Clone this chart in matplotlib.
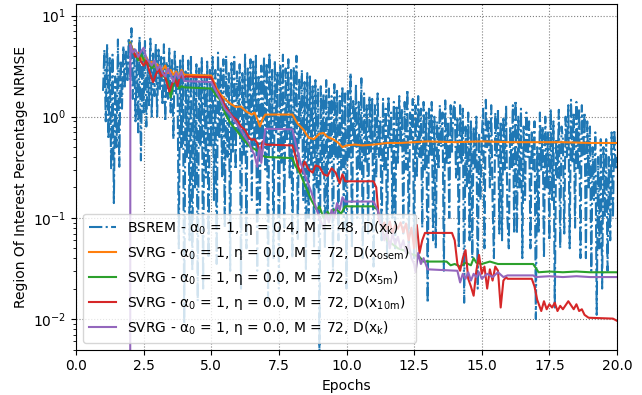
import matplotlib.pyplot as plt
import numpy as np

# BSREM: one value every 0.05 epoch, from epoch 1.0 to 20.0
bsrem_start = 1.0
bsrem_step = 0.05
bsrem_nrmse = [
    1.8, 4.6, 0.9, 5.2, 0.6, 3.8, 0.3, 4.1, 0.14, 2.5, 0.5, 5.8, 0.32, 3.6, 1.2, 5.0, 1.9, 4.4, 2.2, 6.0,
    2.3, 7.5, 1.5, 4.8, 0.9, 3.9, 0.7, 6.2, 0.37, 4.5, 1.1, 5.6, 0.8, 3.4, 1.3, 5.9, 1.0, 4.2, 1.6, 5.3,
    1.0, 4.6, 1.8, 3.9, 1.3, 5.2, 0.9, 3.5, 1.5, 4.7, 1.1, 3.8, 0.6, 4.4, 1.7, 3.2, 0.05, 3.6, 0.5, 4.0,
    0.009, 2.8, 0.4, 3.6, 0.06, 4.1, 0.03, 2.5, 0.2, 3.3, 0.015, 3.0, 0.5, 3.8, 0.02, 2.6, 0.25, 3.5, 0.04, 2.9,
    0.5, 3.9, 0.15, 2.9, 0.035, 4.3, 0.6, 3.1, 0.25, 3.7, 0.08, 4.0, 0.4, 2.7, 0.03, 3.4, 0.45, 3.9, 0.3, 2.8,
    0.7, 3.3, 0.02, 2.7, 0.4, 4.2, 0.05, 3.0, 0.6, 3.7, 0.15, 3.5, 0.5, 4.0, 0.03, 2.6, 0.12, 3.2, 0.55, 3.9,
    0.3, 3.4, 0.015, 4.3, 0.5, 2.9, 0.04, 3.6, 0.7, 2.8, 0.02, 3.3, 0.35, 4.1, 0.08, 3.0, 0.6, 3.7, 0.25, 2.9,
    0.04, 3.1, 0.4, 4.0, 0.06, 2.4, 0.6, 2.9, 0.15, 2.2, 0.03, 2.7, 0.1, 2.5, 0.3, 2.0, 0.05, 2.3, 0.2, 1.9,
    0.004, 2.0, 0.3, 1.7, 0.05, 2.3, 0.1, 1.9, 0.35, 1.6, 0.03, 2.1, 0.4, 1.8, 0.06, 1.6, 0.3, 2.0, 0.08, 1.7,
    0.02, 1.8, 0.4, 2.7, 0.05, 1.5, 0.5, 2.1, 0.1, 1.4, 0.3, 2.4, 0.04, 1.7, 0.35, 1.3, 0.07, 1.6, 0.45, 1.5,
    0.033, 1.3, 0.25, 1.7, 0.4, 0.9, 0.06, 1.5, 0.3, 1.2, 0.04, 1.6, 0.5, 1.1, 0.1, 1.4, 0.05, 1.3, 0.35, 1.6,
    0.5, 1.2, 0.07, 1.4, 0.3, 1.85, 0.05, 1.1, 0.6, 1.5, 0.04, 1.3, 0.25, 1.6, 0.4, 1.2, 0.08, 1.4, 0.3, 1.1,
    0.0145, 1.2, 0.4, 1.4, 0.06, 1.0, 0.05, 0.9, 0.3, 1.3, 0.5, 1.1, 0.03, 1.45, 0.35, 0.9, 0.1, 1.3, 0.45, 1.2,
    1.4, 0.25, 1.0, 0.05, 1.3, 0.35, 1.2, 0.0145, 0.8, 0.2, 1.1, 0.06, 0.9, 0.04, 0.8, 0.3, 1.0, 0.02, 0.7, 0.15,
    0.6, 1.2, 0.05, 1.47, 0.5, 0.9, 0.2, 1.3, 0.15, 0.04, 1.1, 0.4, 1.2, 0.07, 0.9, 0.06, 1.0, 0.3, 1.3, 0.1,
    0.05, 0.8, 0.3, 1.3, 0.07, 1.45, 0.07, 1.0, 0.2, 1.2, 0.04, 0.8, 0.15, 1.1, 0.4, 0.9, 0.05, 0.7, 0.3, 0.9,
    0.01, 0.5, 0.07, 1.1, 0.3, 0.8, 0.04, 1.0, 0.2, 0.7, 0.06, 1.2, 0.15, 0.9, 0.013, 0.6, 0.25, 1.17, 0.05, 0.8,
    0.6, 0.07, 1.0, 0.4, 1.3, 0.05, 1.47, 0.35, 1.1, 0.08, 1.4, 0.3, 1.2, 0.04, 1.3, 0.4, 1.1, 0.04, 0.9, 0.2,
    0.8, 0.03, 0.5, 0.15, 0.7, 0.011, 0.4, 0.05, 0.6, 0.02, 0.5, 0.1, 0.6, 0.03, 0.4, 0.06, 0.7, 0.1, 0.74, 0.3,
    0.4,
]

osem_epochs = [2.0, 2.1, 2.2, 2.3, 2.4, 2.5, 2.6, 2.7, 2.8, 2.9, 3.0, 3.1, 3.2, 3.3, 3.4,
               3.5, 3.6, 3.7, 3.8, 3.9, 4.0, 5.0, 5.2, 5.35, 5.5, 5.7, 5.9, 6.1, 6.3, 6.5,
               6.6, 6.7, 6.8, 6.9, 7.0, 8.0, 8.2, 8.4, 8.6, 8.8, 9.0, 9.15, 9.3, 9.5, 9.7,
               9.85, 10.0, 10.3, 10.6, 11.0, 11.5, 12.0, 12.5, 13.0, 14.0, 15.0, 16.0, 17.0,
               18.0, 19.0, 20.0]
osem_nrmse = [5.4, 4.6, 4.0, 4.3, 3.8, 3.6, 3.9, 3.4, 3.5, 3.1, 3.3, 3.0, 2.9, 3.2, 2.7,
              2.9, 2.6, 2.8, 2.5, 2.9, 2.6, 2.55, 1.9, 1.65, 1.5, 1.35, 1.25, 1.26, 1.12, 1.05,
              1.1, 0.95, 0.8, 0.95, 1.05, 1.05, 0.85, 0.75, 0.62, 0.6, 0.68, 0.69, 0.63, 0.6, 0.55,
              0.5, 0.52, 0.53, 0.52, 0.53, 0.55, 0.55, 0.56, 0.57, 0.56, 0.57, 0.56, 0.56,
              0.56, 0.55, 0.55]

x5m_epochs = [2.0, 2.1, 2.2, 2.3, 2.4, 2.5, 2.6, 2.7, 2.8, 2.9, 3.0, 3.1, 3.2, 3.3, 3.4,
              3.5, 3.6, 3.7, 3.8, 3.9, 4.0, 5.0, 5.2, 5.35, 5.5, 5.7, 5.9, 6.1, 6.3, 6.45,
              6.6, 6.7, 6.85, 7.0, 8.0, 8.1, 8.3, 8.5, 8.7, 8.9, 9.0, 9.15, 9.3, 9.4, 9.5,
              9.65, 9.8, 9.95, 11.0, 11.15, 11.3, 11.5, 11.7, 11.9, 12.1, 12.3, 12.5, 12.7,
              12.85, 13.7, 13.85, 14.0, 14.2, 14.4, 14.6, 14.7, 14.8, 15.0, 15.3, 15.6, 15.8,
              16.9, 17.1, 17.5, 18.0, 18.5, 19.0, 19.5, 20.0]
x5m_nrmse = [5.3, 4.4, 4.1, 3.6, 4.2, 3.7, 3.3, 3.5, 3.0, 3.3, 2.8, 3.0, 2.6, 2.4, 2.2,
             1.55, 2.1, 2.3, 1.9, 2.0, 1.95, 1.9, 1.6, 1.45, 1.1, 0.87, 0.75, 0.64, 0.55, 0.5,
             0.48, 0.46, 0.42, 0.40, 0.39, 0.33, 0.27, 0.2, 0.15, 0.12, 0.13, 0.10, 0.115, 0.105, 0.12,
             0.12, 0.11, 0.13, 0.13, 0.12, 0.075, 0.06, 0.055, 0.05, 0.048, 0.045, 0.043, 0.041,
             0.037, 0.037, 0.034, 0.035, 0.033, 0.036, 0.034, 0.04, 0.036, 0.035, 0.037, 0.035, 0.035,
             0.035, 0.029, 0.0295, 0.029, 0.0295, 0.029, 0.029, 0.029]

x10m_epochs = [2.0, 2.1, 2.2, 2.3, 2.4, 2.5, 2.6, 2.7, 2.8, 2.85, 2.95, 3.05, 3.15, 3.25, 3.35,
               3.45, 3.55, 3.65, 3.75, 3.85, 3.95, 4.05, 5.0, 5.2, 5.35, 5.5, 5.65, 5.8, 5.95,
               6.1, 6.25, 6.4, 6.5, 6.6, 6.7, 6.8, 6.9, 7.0, 8.0, 8.1, 8.2, 8.3, 8.45, 8.6,
               8.75, 8.85, 9.0, 9.15, 9.3, 9.45, 9.6, 9.75, 9.85, 9.95, 11.0, 11.1, 11.2, 11.3,
               11.4, 11.5, 11.6, 11.7, 11.8, 11.9, 12.0, 12.1, 12.2, 12.3, 12.4, 12.5, 12.6,
               12.7, 12.8, 12.9, 13.9, 14.0, 14.1, 14.2, 14.3, 14.4, 14.5, 14.6, 14.7, 14.8,
               14.9, 15.0, 15.1, 15.2, 15.3, 15.4, 15.5, 15.6, 15.7, 15.8, 15.9, 15.95, 16.85,
               16.95, 17.05, 17.2, 17.3, 17.4, 17.5, 17.6, 17.7, 17.8, 17.9, 18.0, 18.2, 18.4,
               18.5, 18.6, 18.7, 18.8, 18.95, 19.85, 20.0]
x10m_nrmse = [5.0, 4.5, 3.9, 4.2, 3.5, 3.2, 3.6, 2.9, 2.4, 2.2, 2.6, 3.0, 2.5, 2.7, 2.2,
              1.77, 2.1, 2.4, 2.0, 2.6, 2.4, 2.5, 2.45, 1.8, 1.57, 1.3, 1.12, 1.0, 0.93,
              0.8, 0.74, 0.62, 0.59, 0.6, 0.55, 0.44, 0.57, 0.53, 0.52, 0.42, 0.33, 0.28, 0.36, 0.3,
              0.28, 0.33, 0.32, 0.27, 0.26, 0.31, 0.28, 0.22, 0.27, 0.23, 0.23, 0.2, 0.095, 0.08,
              0.09, 0.075, 0.092, 0.07, 0.085, 0.078, 0.09, 0.072, 0.088, 0.06, 0.08, 0.05, 0.085,
              0.045, 0.06, 0.071, 0.071, 0.06, 0.035, 0.03, 0.04, 0.048, 0.025, 0.021, 0.017, 0.03,
              0.043, 0.028, 0.033, 0.02, 0.031, 0.024, 0.033, 0.03, 0.013, 0.024, 0.026, 0.025, 0.025,
              0.021, 0.0155, 0.012, 0.015, 0.0125, 0.014, 0.013, 0.0145, 0.012, 0.0135, 0.0125, 0.015, 0.0125,
              0.014, 0.012, 0.0125, 0.011, 0.0103, 0.0101, 0.0096]

xk_epochs = [2.0, 2.01, 2.1, 2.2, 2.3, 2.4, 2.5, 2.6, 2.7, 2.8, 2.9, 3.0, 3.1, 3.2, 3.3,
             3.4, 3.5, 3.6, 3.7, 3.8, 3.9, 4.0, 5.0, 5.2, 5.35, 5.5, 5.7, 5.9, 6.1, 6.3,
             6.4, 6.5, 6.6, 6.7, 6.75, 6.8, 6.85, 6.95, 7.0, 8.0, 8.15, 8.3, 8.5, 8.7, 8.9,
             9.0, 9.1, 9.15, 9.25, 9.35, 9.45, 9.55, 9.65, 9.75, 9.85, 9.95, 11.0, 11.15,
             11.3, 11.4, 11.5, 11.6, 11.7, 11.8, 11.9, 12.0, 12.1, 12.2, 12.3, 12.4, 12.5,
             12.55, 12.65, 12.75, 12.85, 13.0, 14.1, 14.2, 14.3, 14.4, 14.5, 14.6, 14.7,
             14.8, 14.9, 15.0, 15.2, 15.4, 15.6, 15.8, 15.95, 16.9, 17.0, 17.5, 18.0, 18.5,
             19.0, 20.0]
xk_nrmse = [1e-5, 5.2, 4.3, 4.6, 3.9, 4.4, 4.8, 3.8, 3.5, 3.2, 3.6, 2.9, 3.2, 2.7, 2.5,
            3.0, 2.6, 2.2, 2.7, 2.4, 2.8, 2.25, 2.2, 1.75, 1.47, 1.2, 1.05, 0.88, 0.74, 0.6,
            0.55, 0.47, 0.42, 0.32, 0.45, 0.5, 0.35, 0.6, 0.76, 0.75, 0.5, 0.35, 0.25, 0.18, 0.12,
            0.1, 0.085, 0.077, 0.11, 0.09, 0.12, 0.1, 0.14, 0.12, 0.16, 0.145, 0.145, 0.12,
            0.08, 0.06, 0.075, 0.05, 0.07, 0.055, 0.065, 0.05, 0.06, 0.045, 0.055, 0.04, 0.035,
            0.029, 0.045, 0.035, 0.04, 0.031, 0.03, 0.023, 0.028, 0.025, 0.029, 0.024, 0.028,
            0.026, 0.029, 0.025, 0.028, 0.026, 0.029, 0.026, 0.027, 0.027, 0.026, 0.0265, 0.026, 0.0265,
            0.026, 0.026]

labels = [
    r'BSREM - $\mathregular{\alpha_0}$ = 1, $\mathregular{\eta}$ = 0.4, M = 48, D(x$_\mathregular{k}$)',
    r'SVRG - $\mathregular{\alpha_0}$ = 1, $\mathregular{\eta}$ = 0.0, M = 72, D(x$_\mathregular{osem}$)',
    r'SVRG - $\mathregular{\alpha_0}$ = 1, $\mathregular{\eta}$ = 0.0, M = 72, D(x$_\mathregular{5m}$)',
    r'SVRG - $\mathregular{\alpha_0}$ = 1, $\mathregular{\eta}$ = 0.0, M = 72, D(x$_\mathregular{10m}$)',
    r'SVRG - $\mathregular{\alpha_0}$ = 1, $\mathregular{\eta}$ = 0.0, M = 72, D(x$_\mathregular{k}$)',
]

bsrem_epochs = bsrem_start + bsrem_step * np.arange(len(bsrem_nrmse))

fig = plt.figure(figsize=(6.42, 3.95), dpi=100)
ax = fig.add_axes([76 / 642, 1 - 349.5 / 395, 541 / 642, 345.5 / 395])

ax.plot(bsrem_epochs, bsrem_nrmse, '-.', color='tab:blue', label=labels[0])
ax.plot(osem_epochs, osem_nrmse, color='tab:orange', label=labels[1])
ax.plot(x5m_epochs, x5m_nrmse, color='tab:green', label=labels[2])
ax.plot(x10m_epochs, x10m_nrmse, color='tab:red', label=labels[3])
ax.plot(xk_epochs, xk_nrmse, color='tab:purple', label=labels[4])

ax.set_yscale('log')
ax.set_xlim(0, 20)
ax.set_ylim(0.005, 13)
ax.grid(True, linestyle=':', color='gray')
ax.set_xlabel('Epochs')
ax.set_ylabel('Region Of Interest Percentage NRMSE')
ax.legend(loc='lower left')

plt.savefig('out.png', dpi=100)
